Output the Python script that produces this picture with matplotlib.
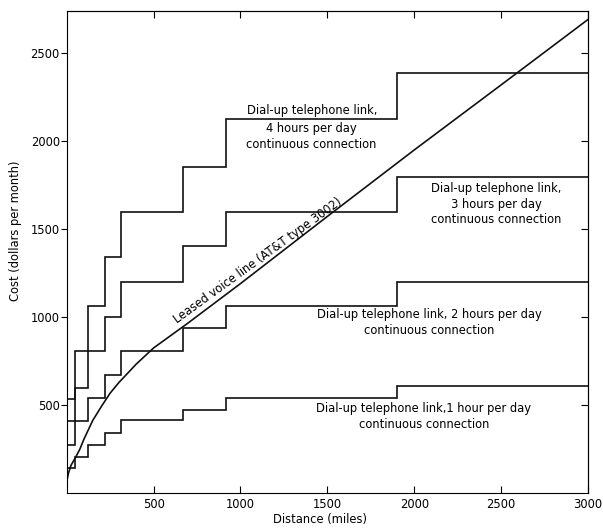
import matplotlib
matplotlib.use("Agg")
import matplotlib.pyplot as plt

# ---- data ----
band_edges = [0, 50, 124, 220, 312, 670, 917, 1900, 3000]   # miles
cost_1h = [138, 204, 270, 340, 412, 469, 539, 606]
cost_2h = [270, 408, 538, 668, 807, 937, 1063, 1199]
cost_3h = [408, 593, 807, 1000, 1199, 1404, 1594, 1796]
cost_4h = [530, 807, 1058, 1340, 1596, 1853, 2122, 2385]

leased_miles = [0, 10, 25, 50, 75, 100, 150, 200, 250, 300, 400, 500,
                700, 1000, 1500, 2000, 2500, 3000]
leased_cost = [60, 110, 155, 198, 245, 305, 410, 490, 565, 625, 730, 822,
               965, 1188, 1570, 1948, 2318, 2690]

x_ticks = [500, 1000, 1500, 2000, 2500, 3000]
y_ticks = [500, 1000, 1500, 2000, 2500]

plt.rcParams["font.family"] = ["DejaVu Sans"]
FS = 8.3

W, H = 603, 529
fig = plt.figure(figsize=(W / 100, H / 100), dpi=100)
left, right, bottom, top = 66.7, 588.0, 492.5, 10.7
ax = fig.add_axes([left / W, 1 - bottom / H, (right - left) / W, (bottom - top) / H])

for series in (cost_1h, cost_2h, cost_3h, cost_4h):
    ax.stairs(series, band_edges, baseline=None, color="#111111", lw=1.2)
ax.plot(leased_miles, leased_cost, color="#111111", lw=1.2)

ax.set_xlim(0, 3000)
ax.set_ylim(0, 2740)
ax.set_xticks(x_ticks)
ax.set_yticks(y_ticks)
ax.set_xticklabels([str(v) for v in x_ticks])
ax.set_yticklabels([str(v) for v in y_ticks])
for s in ax.spines.values():
    s.set_linewidth(0.8)
ax.tick_params(axis="y", direction="out", length=4, width=0.8, pad=1, labelsize=FS)
ax.tick_params(axis="x", direction="in", length=5, width=0.8, pad=4, labelsize=FS)

sec_r = ax.secondary_yaxis("right")
sec_r.set_yticks(y_ticks)
sec_r.set_yticklabels([])
sec_r.tick_params(direction="in", length=5, width=0.8)
sec_t = ax.secondary_xaxis("top")
sec_t.set_xticks(x_ticks)
sec_t.set_xticklabels([])
sec_t.tick_params(direction="in", length=5, width=0.8)

def px(x, y):
    return ((x - left) / (right - left) * 3000, (bottom - y) / (bottom - top) * 2740)

# labels
ax.text(*px(312, 110), "Dial-up telephone link,", ha="center", va="center", fontsize=FS)
ax.text(*px(311, 136.5), "4 hours per day\ncontinuous connection", ha="center",
        va="center", fontsize=FS, linespacing=1.25)
ax.text(*px(496, 204), "Dial-up telephone link,\n3 hours per day\ncontinuous connection",
        ha="center", va="center", fontsize=FS, linespacing=1.25)
ax.text(*px(429, 322.5), "Dial-up telephone link, 2 hours per day\ncontinuous connection",
        ha="center", va="center", fontsize=FS, linespacing=1.25)
ax.text(*px(424, 416.7), "Dial-up telephone link,1 hour per day\ncontinuous connection",
        ha="center", va="center", fontsize=FS, linespacing=1.25)
ax.text(*px(258, 261), "Leased voice line (AT&T type 3002)", ha="center", va="center",
        rotation=36, rotation_mode="anchor", fontsize=FS)

fig.text(16 / W, 1 - 231 / H, "Cost (dollars per month)", rotation=90,
         ha="center", va="center", fontsize=FS)
fig.text(320 / W, 1 - 519 / H, "Distance (miles)", ha="center", va="center", fontsize=FS)

fig.savefig("out.png", dpi=100)
